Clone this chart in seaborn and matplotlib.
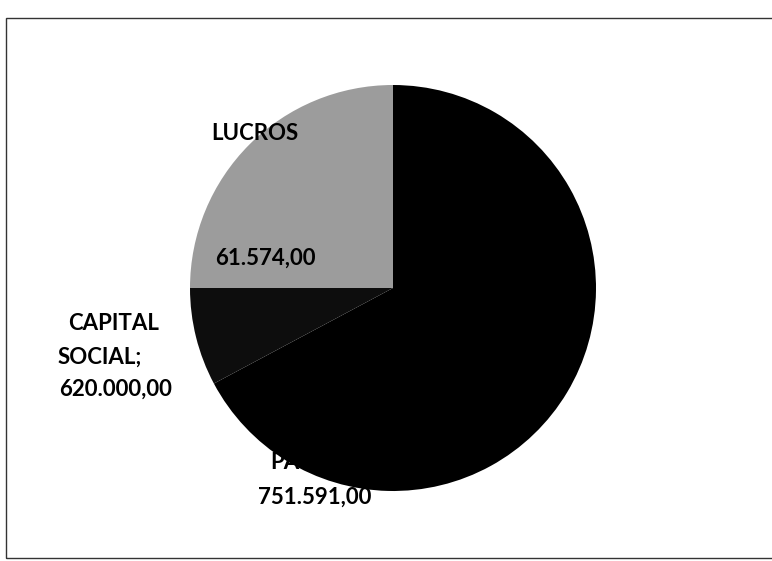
import matplotlib.pyplot as plt
import matplotlib.patches as mpatches
import seaborn as sns

# slice shares as seen in the drawing (clockwise from 12 o'clock)
categories = ["PASSIVO", "CAPITAL SOCIAL", "LUCROS"]
shares = [67.2, 7.8, 25.0]
value_labels = ["751.591,00", "620.000,00", "61.574,00"]
colors = ["#000000", "#0d0d0d", "#9c9c9c"]

sns.set_theme(style="white")
plt.rcParams['font.family'] = ['Lato', 'DejaVu Sans']

W, H = 772, 561
fig = plt.figure(figsize=(W / 100, H / 100), dpi=100)
ax = fig.add_axes([0, 0, 1, 1])

# pie centre and radius in pixel units of the picture (y measured from top)
cx, cy, r = 393, 288, 203
ax.pie(shares, colors=colors, startangle=90, counterclock=False,
       center=(cx, H - cy), radius=r, frame=True,
       wedgeprops=dict(linewidth=0))
ax.set_xlim(0, W)
ax.set_ylim(0, H)
ax.set_aspect('equal')
ax.axis('off')


def label(x, y, s, **kw):
    ax.text(x, H - y, s, ha='center', va='center', fontsize=16,
            fontweight='bold', color='black', **kw)


# LUCROS
label(255, 133, categories[2])
label(265, 258, value_labels[2])
# CAPITAL SOCIAL
label(114, 324, "CAPITAL")
label(100, 357, "SOCIAL;")
label(116, 389, value_labels[1])
# PASSIVO (name mostly hidden by the black slice)
label(320, 462, categories[0] + ";")
label(315, 497, value_labels[0])

# scanned frame around the chart
frame = mpatches.Rectangle((6 / W, 3 / H), 1.0, 1 - 21 / H,
                           transform=fig.transFigure, fill=False,
                           edgecolor='#333333', linewidth=1.0)
fig.patches.append(frame)

fig.savefig("out.png", dpi=100)
